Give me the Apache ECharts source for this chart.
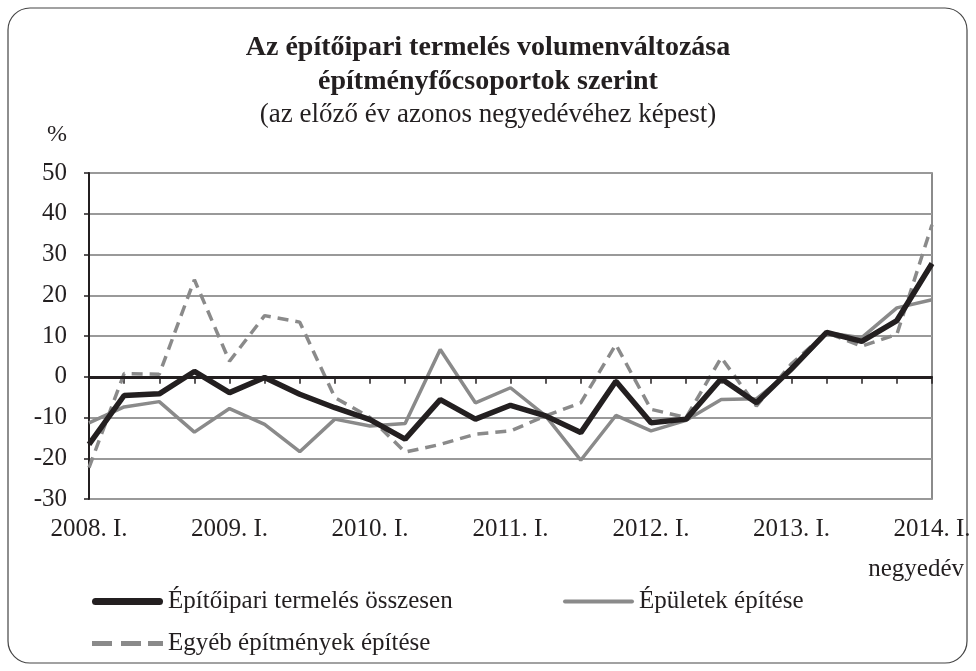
<!DOCTYPE html>
<html>
<head>
<meta charset="utf-8">
<script src="https://cdn.jsdelivr.net/npm/echarts@6/dist/echarts.min.js"></script>
<style>
  html, body { margin: 0; padding: 0; background: #fff; }
  #chart { width: 976px; height: 671px; }
</style>
</head>
<body>
<div id="chart"></div>
<script>
// negyedévek 2008. I. - 2014. I.
var years = ['2008', '2009', '2010', '2011', '2012', '2013', '2014'];
var quarterNames = ['I.', 'II.', 'III.', 'IV.'];
var categories = [];
for (var y = 0; y < years.length; y++) {
    for (var q = 0; q < 4; q++) {
        if (years[y] === '2014' && q > 0) break;
        categories.push(years[y] + '. ' + quarterNames[q]);
    }
}

var seriesNames = ['Építőipari termelés összesen', 'Épületek építése', 'Egyéb építmények építése'];

var total = [-16.6, -4.6, -4.2, 1.3, -3.9, -0.2, -4.3, -7.6, -10.5, -15.3, -5.6, -10.4, -7.0,
    -9.6, -13.7, -1.1, -11.3, -10.4, -0.5, -6.4, 2.0, 10.9, 8.7, 13.8, 27.8];
var buildings = [-11.3, -7.4, -6.1, -13.6, -7.8, -11.7, -18.4, -10.4, -12.1, -11.5, 6.7, -6.4, -2.7,
    -9.6, -20.5, -9.5, -13.3, -10.7, -5.6, -5.4, 1.5, 10.8, 9.6, 16.9, 18.9];
var other = [-22.3, 0.8, 0.6, 23.8, 3.8, 15.0, 13.4, -5.1, -10.0, -18.5, -16.6, -14.1, -13.3,
    -9.6, -6.4, 7.9, -8.0, -10.0, 4.7, -7.2, 3.2, 10.8, 7.5, 10.4, 37.3];

var FONT = '"Liberation Serif", "DejaVu Serif", serif';
var INK = '#231f20';
var GREY = '#8a8a8a';

var myChart = echarts.init(document.getElementById('chart'));

var legendText = { fontFamily: FONT, fontSize: 25, color: INK };

// legend icons (vonal minták)
var iconThick = 'path://M3.5,0 h64 a3.5,3.5 0 0 1 0,7 h-64 a3.5,3.5 0 0 1 0,-7 z';
var iconThin = 'path://M2,0 h67 a2,2 0 0 1 0,4 h-67 a2,2 0 0 1 0,-4 z';
var iconDash = 'path://M0,0 h20 v5 h-20 z M29,0 h20 v5 h-20 z M56,0 h15 v5 h-15 z';

var option = {
    animation: false,
    backgroundColor: '#fff',
    textStyle: { fontFamily: FONT },
    title: [
        { text: 'Az építőipari termelés volumenváltozása', left: 'center', top: 29,
          textStyle: { fontFamily: FONT, fontSize: 28, fontWeight: 'bold', color: INK } },
        { text: 'építményfőcsoportok szerint', left: 'center', top: 63,
          textStyle: { fontFamily: FONT, fontSize: 28, fontWeight: 'bold', color: INK } },
        { text: '(az előző év azonos negyedévéhez képest)', left: 'center', top: 96,
          textStyle: { fontFamily: FONT, fontSize: 27, fontWeight: 'normal', color: INK } }
    ],
    graphic: [
        { type: 'rect', shape: { x: 8, y: 8, width: 959, height: 655, r: 22 },
          style: { fill: 'none', stroke: '#444', lineWidth: 1.2 }, z: -1 },
        { type: 'text', x: 57, y: 135,
          style: { text: '%', font: '24px ' + FONT, fill: INK, align: 'center', verticalAlign: 'middle' } },
        { type: 'text', x: 964, y: 569,
          style: { text: 'negyedév', font: '25px ' + FONT, fill: INK, align: 'right', verticalAlign: 'middle' } }
    ],
    legend: [
        { data: [{ name: seriesNames[0], icon: iconThick }], left: 87, top: 584,
          itemWidth: 71, itemHeight: 7, itemGap: 0, textStyle: legendText },
        { data: [{ name: seriesNames[1], icon: iconThin }], left: 558, top: 584,
          itemWidth: 71, itemHeight: 4, itemGap: 0, textStyle: legendText },
        { data: [{ name: seriesNames[2], icon: iconDash }], left: 87, top: 626,
          itemWidth: 71, itemHeight: 5, itemGap: 0, textStyle: legendText }
    ],
    grid: {
        left: 89, right: 44, top: 173, bottom: 172,
        show: true, borderColor: '#666', borderWidth: 1.5
    },
    xAxis: {
        type: 'category',
        data: categories,
        boundaryGap: false,
        axisLine: { lineStyle: { color: INK, width: 2 } },
        axisTick: { show: true, interval: 0, length: 7, lineStyle: { color: INK, width: 1.5 } },
        axisLabel: { interval: 3, margin: 18, fontFamily: FONT, fontSize: 25, color: INK },
        splitLine: { show: false }
    },
    yAxis: {
        type: 'value',
        min: -30, max: 50, interval: 10,
        axisLine: { show: true, lineStyle: { color: INK, width: 2 } },
        axisTick: { show: true, length: 5, lineStyle: { color: INK, width: 1.5 } },
        axisLabel: { margin: 22, fontFamily: FONT, fontSize: 25, color: INK },
        splitLine: { show: true, lineStyle: { color: '#999', width: 2 } }
    },
    series: [
        {
            name: seriesNames[2], type: 'line', data: other, symbol: 'none',
            lineStyle: { color: GREY, width: 3.5, type: [11, 7] },
            itemStyle: { color: GREY }, z: 2
        },
        {
            name: seriesNames[1], type: 'line', data: buildings, symbol: 'none',
            lineStyle: { color: GREY, width: 3.5 },
            itemStyle: { color: GREY }, z: 3
        },
        {
            name: seriesNames[0], type: 'line', data: total, symbol: 'none',
            lineStyle: { color: INK, width: 5.5 },
            itemStyle: { color: INK }, z: 4,
            markLine: {
                silent: true, symbol: 'none', label: { show: false },
                lineStyle: { color: INK, width: 3, type: 'solid' },
                data: [{ yAxis: 0 }]
            }
        }
    ]
};

myChart.setOption(option);
</script>
</body>
</html>
